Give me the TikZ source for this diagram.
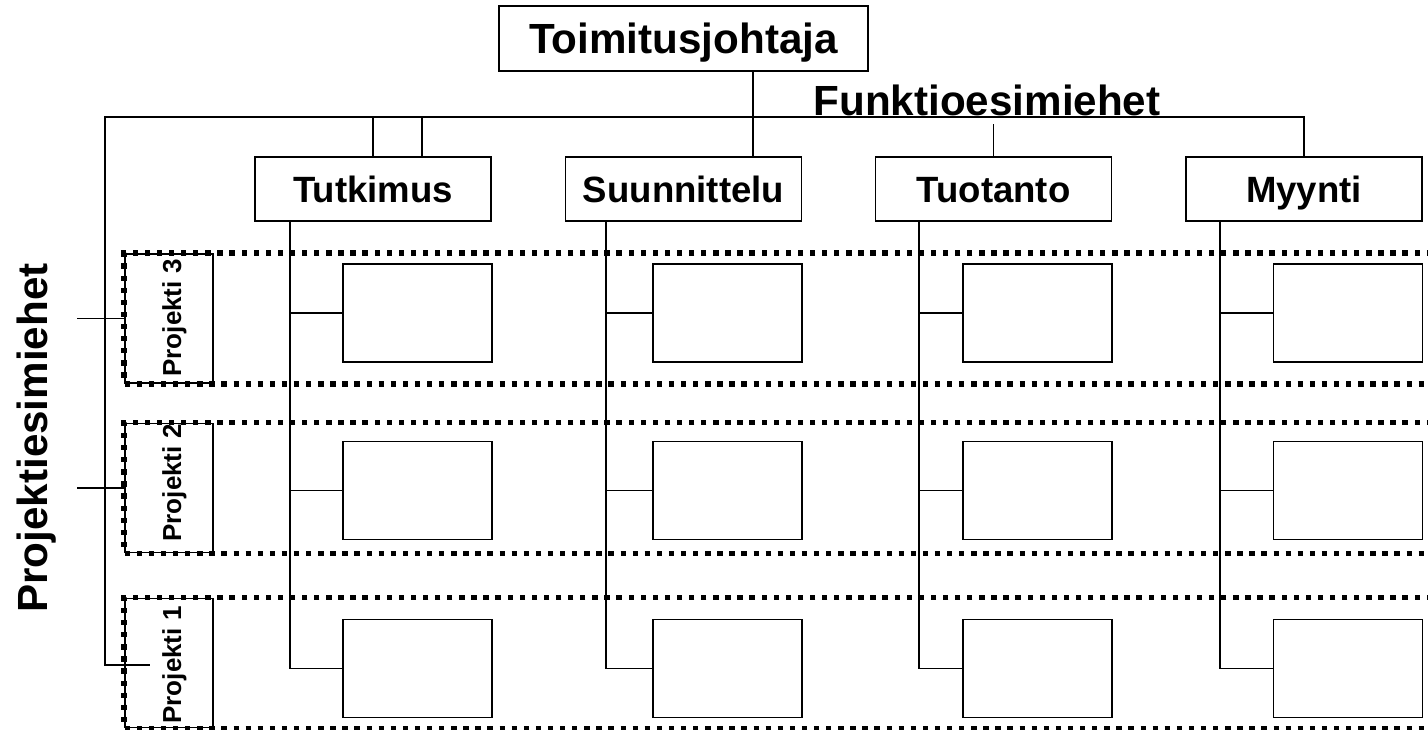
\documentclass[tikz,border=0pt]{standalone}
\usepackage{fontspec}
\setmainfont{Liberation Sans}
\usepackage{tikz}
\usetikzlibrary{positioning, calc}

\begin{document}
\begin{tikzpicture}[x=0.025cm, y=-0.025cm, line width=1.2pt,
    ceobox/.style={draw, line width=1.3pt, minimum width=9.225cm, minimum height=1.625cm,
      inner sep=0pt, text height=21.5pt, text depth=0pt, font=\fontsize{30}{36}\selectfont\bfseries},
    funcbox/.style={draw, line width=1.3pt, minimum width=5.9cm, minimum height=1.6cm,
      inner sep=0pt, text height=18.6pt, text depth=0pt, font=\fontsize{26}{31}\selectfont\bfseries},
    cellbox/.style={draw, line width=1.3pt, minimum width=3.725cm, minimum height=2.45cm, inner sep=0pt},
    projbox/.style={draw, line width=1.2pt, minimum width=2.2cm, minimum height=3.225cm, inner sep=0pt},
    projlabel/.style={rotate=90, anchor=base, inner sep=0pt, font=\fontsize{18.5}{22}\selectfont\bfseries},
    headtext/.style={font=\fontsize{30}{36}\selectfont\bfseries},
    rowline/.style={line width=3.8pt, dash pattern=on 3.8pt off 4.8pt}]
  \useasboundingbox (0,0) rectangle (1428,730);

  % johto
  \node[ceobox] (ceo) at (683.5,38.5) {Toimitusjohtaja};
  \node[headtext, anchor=base, inner sep=0.2cm] (fe) at (987,115) {Funktioesimiehet};
  \node[headtext, rotate=90, anchor=base, inner sep=0pt] (pe) at (47,438) {Projektiesimiehet};

  % projektirivit
  \coordinate (rowend) at (1432,0);
  \foreach \r/\ry/\ly in {3/318.5/318, 2/488/483, 1/663/665}{
    \node[projbox] (p\r) at (169,\ry) {};
    \node[projlabel] (pl\r) at (181,\ly) {Projekti \r};
    \draw[rowline] (p\r.north west -| rowend) -- (p\r.north west) -- (p\r.south west) -- (p\r.south west -| rowend);
  }

  % funktiot ja solut
  \foreach \n/\txt/\cx/\vx/\kx in {1/Tutkimus/373/290/417.5, 2/Suunnittelu/683.5/606/727.5,
      3/Tuotanto/993.5/919/1037.5, 4/Myynti/1304/1220/1348}{
    \node[funcbox] (f\n) at (\cx,189) {\txt};
    \coordinate (v\n) at (\vx,0);
    \foreach \r/\ry in {1/668.5, 2/490.5, 3/313}{
      \node[cellbox] (c\n\r) at (\kx,\ry) {};
    }
    \draw (f\n.south -| v\n) |- (c\n1.west);
    \draw (v\n |- c\n2.west) -- (c\n2.west);
    \draw (v\n |- c\n3.west) -- (c\n3.west);
  }

  % yhteydet
  \coordinate (lt) at (105,117);
  \coordinate (p1end) at (150,665);
  \coordinate (tickl) at (77,0);
  \coordinate (cv) at (753,0);
  \draw (f4.north) |- (lt) |- (p1end);
  \draw (p3.west -| tickl) -- (p3.west);
  \draw (p2.west -| tickl) -- (p2.west);
  \draw (f1.north) -- (f1.north |- lt);
  \draw ($(f1.north)+(49,0)$) -- ($(f1.north |- lt)+(49,0)$);
  \draw (ceo.south -| cv) -- (f2.north -| cv);
  \draw (fe.south -| f3.north) -- (f3.north);
\end{tikzpicture}
\end{document}
